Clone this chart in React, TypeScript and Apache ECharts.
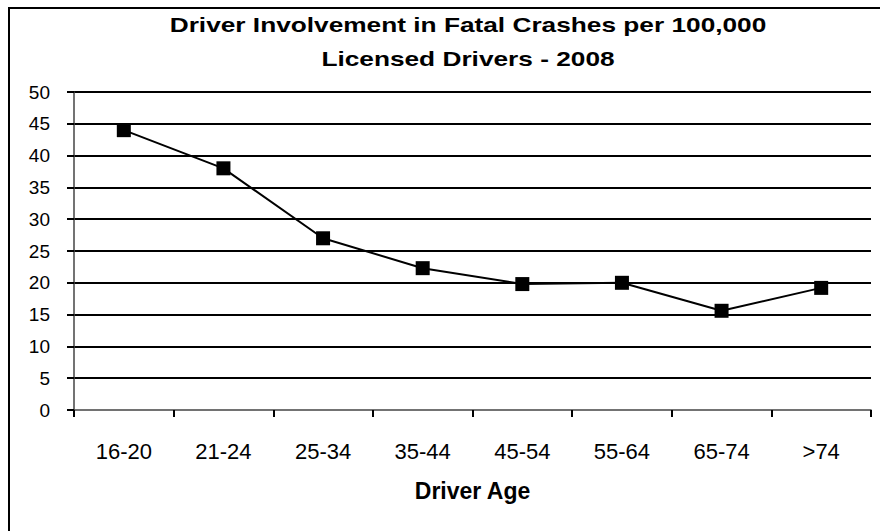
import React, { useEffect, useRef } from "react";
import * as echarts from "echarts";

const categories = ["16-20", "21-24", "25-34", "35-44", "45-54", "55-64", "65-74", ">74"];
const rates = [44, 38, 27, 22.3, 19.8, 20, 15.6, 19.2];
const titleLines = ["Driver Involvement in Fatal Crashes per 100,000", "Licensed Drivers - 2008"];
const xAxisName = "Driver Age";

export default function App() {
  const ref = useRef<HTMLDivElement>(null);
  useEffect(() => {
    if (!ref.current) return;
    const chart = echarts.init(ref.current, undefined, { renderer: "svg" });
    const font = "'Liberation Sans', Arial, sans-serif";
    const splitColors = ["rgba(0,0,0,0)"].concat(new Array(10).fill("#000"));
    chart.setOption({
      animation: false,
      backgroundColor: "#fff",
      textStyle: { fontFamily: font },
      graphic: [
        {
          type: "rect",
          shape: { x: 9, y: 8, width: 900, height: 600 },
          style: { fill: "none", stroke: "#000", lineWidth: 2 },
          silent: true,
        },
        {
          type: "text",
          x: 468,
          y: 41,
          scaleX: 1.25,
          style: {
            text: titleLines.join("\n"),
            fontSize: 21,
            fontWeight: "bold",
            fontFamily: font,
            fill: "#000",
            lineHeight: 34,
            textAlign: "center",
            textVerticalAlign: "middle",
          },
          silent: true,
        },
      ],
      grid: { left: 74, right: 9, top: 92, bottom: 121, containLabel: false },
      xAxis: {
        type: "category",
        data: categories,
        boundaryGap: true,
        name: xAxisName,
        nameLocation: "middle",
        nameGap: 69,
        nameTextStyle: { fontSize: 23, fontWeight: "bold", color: "#000", fontFamily: font },
        axisLine: { show: true, lineStyle: { color: "#444", width: 1.5 } },
        axisTick: { show: true, inside: false, length: 7, lineStyle: { color: "#000", width: 2 } },
        axisLabel: { fontSize: 22, color: "#000", margin: 30, fontFamily: font },
        splitLine: { show: false },
      },
      yAxis: {
        type: "value",
        min: 0,
        max: 50,
        interval: 5,
        axisLine: { show: true, lineStyle: { color: "#444", width: 1.5 } },
        axisTick: { show: true, inside: false, length: 7, lineStyle: { color: "#000", width: 2 } },
        axisLabel: { fontSize: 19, color: "#000", margin: 24, fontFamily: font },
        splitLine: { show: true, lineStyle: { color: splitColors, width: 2 } },
      },
      series: [
        {
          type: "line",
          data: rates,
          symbol: "rect",
          symbolSize: 14,
          itemStyle: { color: "#000" },
          lineStyle: { color: "#000", width: 2 },
        },
      ],
    });
    return () => chart.dispose();
  }, []);
  return <div ref={ref} style={{ position: "fixed", left: 0, top: 0, width: 880, height: 531 }} />;
}
